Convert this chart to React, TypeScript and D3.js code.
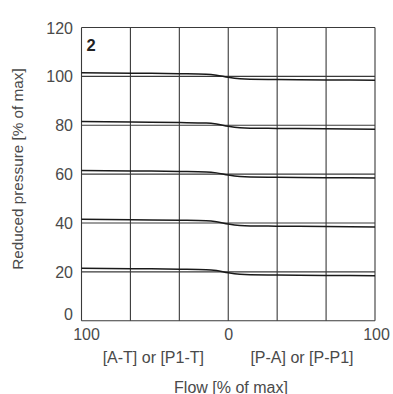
import React from "react";
import * as d3 from "d3";

const levels = [20, 40, 60, 80, 100];
const flowPoints = [-100, -66, -33, -15, -8, 0, 8, 15, 33, 66, 100];
const offsets = [1.5, 1.3, 1.1, 0.9, 0.5, -0.4, -1.0, -1.2, -1.3, -1.45, -1.6];
const yTicks = [0, 20, 40, 60, 80, 100, 120];
const xGrid = [-100, -66.67, -33.33, 0, 33.33, 66.67, 100];
const xTickVals = [-100, 0, 100];
const xTickLabels = ["100", "0", "100"];
const sideLabels = ["[A-T] or [P1-T]", "[P-A] or [P-P1]"];

const W = 393, H = 394;
const L = 81.5, R = 375, T = 27.5, B = 320.7;

export default function App() {
  const x = d3.scaleLinear().domain([-100, 100]).range([L, R]);
  const y = d3.scaleLinear().domain([0, 120]).range([B, T]);
  const line = d3
    .line<[number, number]>()
    .x((d) => x(d[0]))
    .y((d) => y(d[1]))
    .curve(d3.curveMonotoneX);
  const font = "'Liberation Sans', Arial, sans-serif";
  const txt = "#4a4a4a";
  return (
    <svg width={W} height={H} style={{ position: "absolute", left: 0, top: 0 }}>
      <rect x={0} y={0} width={W} height={H} fill="#fff" />
      {xGrid.map((v, i) => (
        <line key={"vx" + i} x1={x(v)} x2={x(v)} y1={y(120)} y2={y(0)} stroke="#3a3a3a" strokeWidth={1.1} />
      ))}
      {yTicks.map((v, i) => (
        <line key={"hy" + i} x1={x(-100)} x2={x(100)} y1={y(v)} y2={y(v)} stroke="#3a3a3a" strokeWidth={1.1} />
      ))}
      {levels.map((lv, i) => (
        <path
          key={"c" + i}
          d={line(flowPoints.map((f, j) => [f, lv + offsets[j]] as [number, number])) || ""}
          fill="none"
          stroke="#1a1a1a"
          strokeWidth={1.5}
        />
      ))}
      {yTicks.map((v, i) => (
        <text
          key={"yt" + i}
          x={73}
          y={y(v) + (v === 0 ? -0.7 : 6)}
          textAnchor="end"
          fontFamily={font}
          fontSize={16}
          fill={txt}
        >
          {v}
        </text>
      ))}
      {xTickVals.map((v, i) => (
        <text
          key={"xt" + i}
          x={x(v) + (i === 0 ? 5 : i === 2 ? 1.5 : 0.5)}
          y={339.5}
          textAnchor="middle"
          fontFamily={font}
          fontSize={16}
          fill={txt}
        >
          {xTickLabels[i]}
        </text>
      ))}
      <text x={153.3} y={362.5} textAnchor="middle" fontFamily={font} fontSize={16} fill={txt}>
        {sideLabels[0]}
      </text>
      <text x={302} y={362.5} textAnchor="middle" fontFamily={font} fontSize={16} fill={txt}>
        {sideLabels[1]}
      </text>
      <text x={231} y={392.5} textAnchor="middle" fontFamily={font} fontSize={16} fill={txt}>
        Flow [% of max]
      </text>
      <text
        transform={`translate(22.7,169) rotate(-90)`}
        textAnchor="middle"
        fontFamily={font}
        fontSize={15.3}
        fill={txt}
      >
        Reduced pressure [% of max]
      </text>
      <text x={86.5} y={51} fontFamily={font} fontWeight={700} fontSize={16.5} fill="#222">
        2
      </text>
    </svg>
  );
}
